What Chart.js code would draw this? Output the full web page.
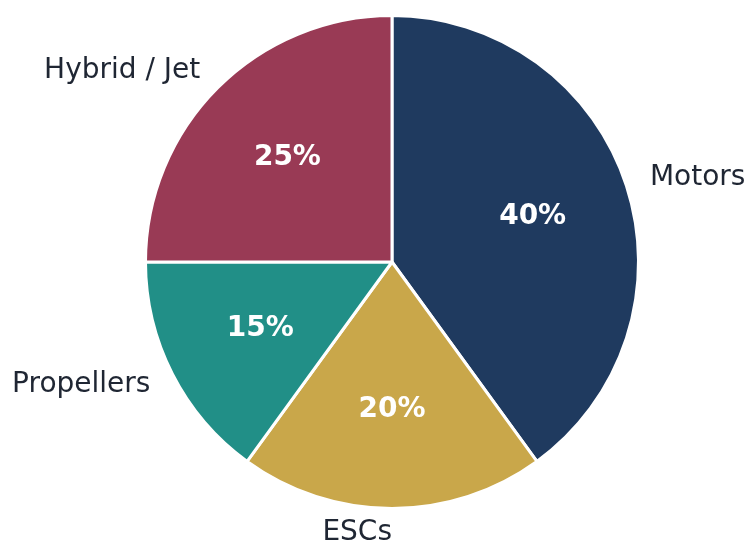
<!DOCTYPE html>
<html>
<head>
<meta charset="utf-8">
<script src="https://cdn.jsdelivr.net/npm/chart.js@4"></script>
<style>
  html, body { margin: 0; padding: 0; background: #fff; }
  #wrap { width: 746px; height: 543px; }
</style>
</head>
<body>
<div id="wrap"><canvas id="pie" width="746" height="543"></canvas></div>
<script>
const labels = ['Motors', 'ESCs', 'Propellers', 'Hybrid / Jet']
const shares = [40, 20, 15, 25]
const colors = ['#1f3a5f', '#c9a74a', '#218f87', '#993a55']

const font = 'DejaVu Sans, sans-serif'

// draws category names outside each slice and the share inside it
const sliceLabels = {
    id: 'sliceLabels',
    afterDatasetsDraw(chart) {
        const ctx = chart.ctx
        const meta = chart.getDatasetMeta(0)
        ctx.save()
        meta.data.forEach(function (arc, i) {
            const p = arc.getProps(['x', 'y', 'startAngle', 'endAngle', 'outerRadius'], true)
            const mid = (p.startAngle + p.endAngle) / 2
            const c = Math.cos(mid), s = Math.sin(mid)

            ctx.textBaseline = 'middle'
            ctx.fillStyle = '#1f2633'
            ctx.font = '28px ' + font
            const lx = p.x + c * p.outerRadius * 1.1
            const ly = p.y + s * p.outerRadius * 1.1
            // labels straight below the centre hang to the left
            ctx.textAlign = c > 1e-6 ? 'left' : 'right'
            ctx.fillText(labels[i], lx, ly)

            ctx.fillStyle = '#ffffff'
            ctx.font = 'bold 28px ' + font
            ctx.textAlign = 'center'
            ctx.fillText(shares[i] + '%', p.x + c * p.outerRadius * 0.6, p.y + s * p.outerRadius * 0.6)
        })
        ctx.restore()
    }
}

new Chart(document.getElementById('pie'), {
    type: 'pie',
    data: {
        labels: labels,
        datasets: [{
            data: shares,
            backgroundColor: colors,
            borderColor: '#ffffff',
            borderWidth: 3
        }]
    },
    options: {
        responsive: false,
        animation: false,
        layout: {padding: {left: 144, right: 106, top: 14, bottom: 33}},
        plugins: {
            legend: {display: false},
            tooltip: {enabled: false}
        }
    },
    plugins: [sliceLabels]
})
</script>
</body>
</html>
